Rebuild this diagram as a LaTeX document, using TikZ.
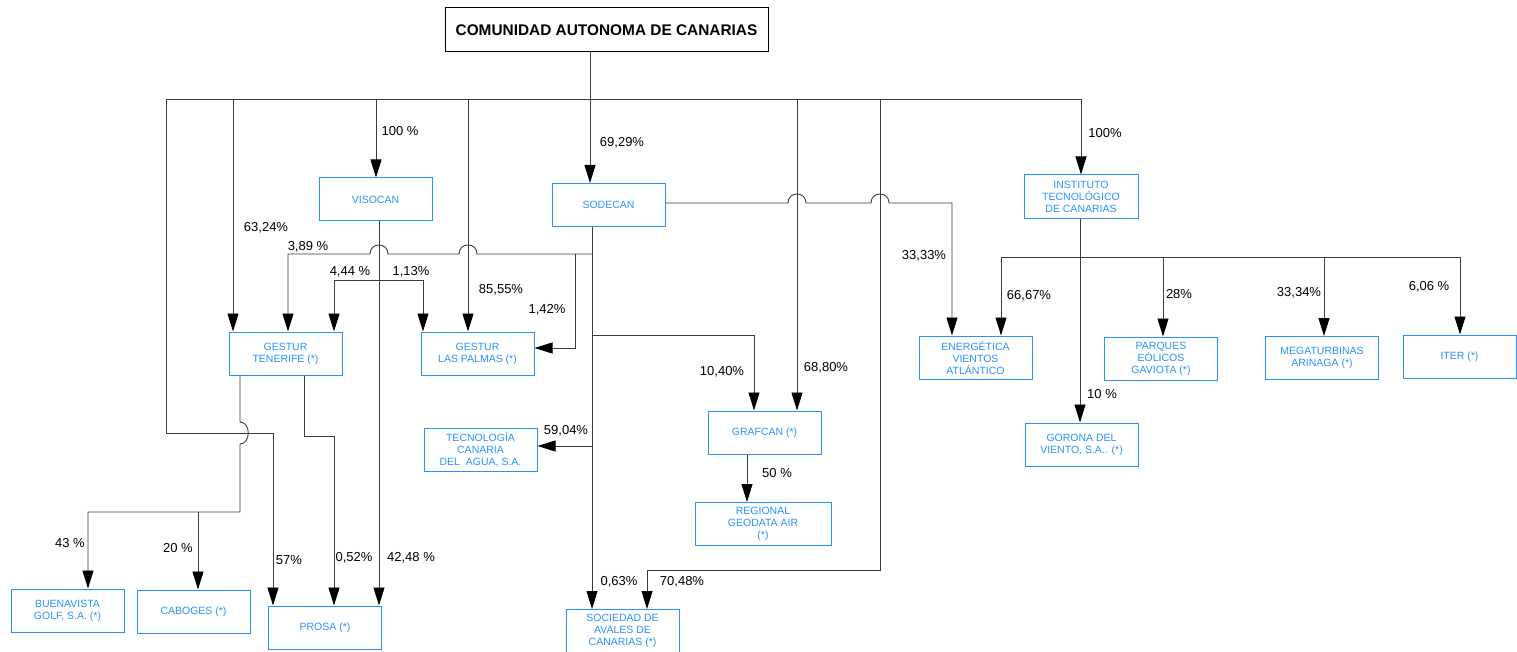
\documentclass[tikz,border=0pt]{standalone}
\usepackage{fontspec}
\setmainfont{Liberation Sans}
\usetikzlibrary{arrows.meta,positioning}
\definecolor{entblue}{RGB}{40,145,255}
\definecolor{linegray}{RGB}{60,60,60}

\begin{document}
\begin{tikzpicture}[x=1pt, y=-1pt,
ent/.style={draw=entblue, text=entblue, line width=1pt, minimum width=113pt, minimum height=43pt, inner sep=1pt, align=center, font=\fontsize{10.5}{12}\selectfont},
pct/.style={font=\fontsize{13}{15}\selectfont, inner sep=0pt},
link/.style={draw=linegray, line width=0.9pt},
arr/.style={link, -{Triangle[length=18pt, width=11pt, color=black]}}]
\useasboundingbox (0,0) rectangle (1517,652);

% entities
\node[draw, line width=1pt, minimum width=323pt, minimum height=44pt, font=\bfseries\fontsize{15.4}{18}\selectfont] (cac) at (606.5,30) {COMUNIDAD AUTONOMA DE CANARIAS};
\node[ent] (visocan) at (375.5,199.5) {VISOCAN};
\node[ent] (sodecan) at (608.5,205) {SODECAN};
\node[ent, minimum width=114pt, minimum height=44pt] (itc) at (1081,197) {INSTITUTO\\TECNOLÓGICO\\DE CANARIAS};
\node[ent] (gtf) at (285.5,353.5) {GESTUR\\TENERIFE (*)};
\node[ent] (glp) at (477.5,353.5) {GESTUR\\LAS PALMAS (*)};
\node[ent] (eva) at (975.5,357.5) {ENERGÉTICA\\VIENTOS\\ATLÁNTICO};
\node[ent] (peg) at (1161,358.5) {PARQUES\\EÓLICOS\\GAVIOTA (*)};
\node[ent] (mta) at (1322,358) {MEGATURBINAS\\ARINAGA (*)};
\node[ent] (iter) at (1459.5,356.5) {ITER (*)};
\node[ent] (tca) at (480.5,450) {TECNOLOGÍA\\CANARIA\\DEL\ \ AGUA, S.A.};
\node[ent] (grafcan) at (764.5,432.5) {GRAFCAN (*)};
\node[ent, minimum width=136pt] (rga) at (763,524) {REGIONAL\\GEODATA AIR\\(*)};
\node[ent] (gorona) at (1081.5,444.5) {GORONA DEL\\VIENTO, S.A.. (*)};
\node[ent] (bgolf) at (67.5,610.5) {BUENAVISTA\\GOLF, S.A. (*)};
\node[ent] (caboges) at (193.5,611.5) {CABOGES (*)};
\node[ent] (prosa) at (325,627.5) {PROSA (*)};
\node[ent] (saca) at (622.5,631) {SOCIEDAD DE\\AVALES DE\\CANARIAS (*)};

% bus points
\coordinate (top) at (590,99);
\coordinate (busL) at (166,99);
\coordinate (busR) at (1081,99);
\coordinate (dTF) at (233,99);
\coordinate (dVI) at (376,99);
\coordinate (dLP) at (468,99);
\coordinate (dGR) at (797,99);
\coordinate (dSA) at (880,99);
\coordinate (pr1) at (273,433);
\coordinate (sa1) at (647,570);
\coordinate (tfL) at (240,512);
\coordinate (vi1) at (379,280);
\coordinate (so1) at (592,254);
\coordinate (itb) at (1001,257);

% comunidad
\draw[link] (cac.south -| top) -- (top);
\draw[arr] (busR) -- (busL) |- (pr1) -- (pr1 |- prosa.north);
\draw[arr] (top) -- (top |- sodecan.north);
\draw[arr] (dTF) -- (dTF |- gtf.north);
\draw[arr] (dVI) -- (dVI |- visocan.north);
\draw[arr] (dLP) -- (dLP |- glp.north);
\draw[arr] (dGR) -- (dGR |- grafcan.north);
\draw[arr] (busR) -- (itc.north);
\draw[arr] (dSA) |- (sa1) -- (sa1 |- saca.north);

% gestur tenerife
\draw[arr] (240,0 |- gtf.south) -- (240,422) .. controls (251,422) and (251,444) .. (240,444) |- (88,512) -- (88,0 |- bgolf.north);
\draw[arr] (198,512) -- (198,0 |- caboges.north);
\draw[arr] (304,0 |- gtf.south) |- (334,436) -- (334,0 |- prosa.north);

% visocan
\draw[arr] (379,0 |- visocan.south) -- (379,0 |- prosa.north);
\draw[arr] (vi1) -| (334,0 |- gtf.north);
\draw[arr] (vi1) -| (423,0 |- glp.north);

% sodecan
\draw[arr] (592,0 |- sodecan.south) -- (592,0 |- saca.north);
\draw[arr] (so1) -- (477,254) .. controls (477,242) and (459,242) .. (459,254) -- (388,254) .. controls (388,242) and (370,242) .. (370,254) -| (288,0 |- gtf.north);
\draw[arr] (575,254) |- (glp.east |- 0,348);
\draw[arr] (592,335) -| (754,0 |- grafcan.north);
\draw[arr] (592,446) -- (tca.east |- 0,446);
\draw[arr] (sodecan.east |- 0,203) -- (788,203) .. controls (788,191) and (806,191) .. (806,203) -- (871,203) .. controls (871,191) and (889,191) .. (889,203) -| (952,0 |- eva.north);
\draw[arr] (747,0 |- grafcan.south) -- (747,0 |- rga.north);

% instituto
\draw[arr] (1080,0 |- itc.south) -- (1080,0 |- gorona.north);
\draw[arr] (1460,257) -- (itb) -- (itb |- eva.north);
\draw[arr] (1163,257) -- (1163,0 |- peg.north);
\draw[arr] (1324,257) -- (1324,0 |- mta.north);
\draw[arr] (1460,257) -- (1460,0 |- iter.north);

% percentages
\node[pct] (p100v) at (400,131) {100 \%};
\node[pct] (p6929) at (622,143) {69,29\%};
\node[pct] (p100i) at (1105,133) {100\%};
\node[pct] (p6324) at (266,228) {63,24\%};
\node[pct] (p389) at (308,247) {3,89 \%};
\node[pct] (p444) at (350,272) {4,44 \%};
\node[pct] (p113) at (411,272) {1,13\%};
\node[pct] (p8555) at (501,290) {85,55\%};
\node[pct] (p142) at (547,310) {1,42\%};
\node[pct] (p3333) at (924,256) {33,33\%};
\node[pct] (p6667) at (1029,296) {66,67\%};
\node[pct] (p28) at (1179,294) {28\%};
\node[pct] (p3334) at (1299,293) {33,34\%};
\node[pct] (p606) at (1429,287) {6,06 \%};
\node[pct] (p1040) at (722,372) {10,40\%};
\node[pct] (p6880) at (826,368) {68,80\%};
\node[pct] (p5904) at (566,431) {59,04\%};
\node[pct] (p50) at (777,473) {50 \%};
\node[pct] (p10) at (1102,394) {10 \%};
\node[pct] (p43) at (70,543) {43 \%};
\node[pct] (p20) at (178,548) {20 \%};
\node[pct] (p57) at (289,560) {57\%};
\node[pct] (p052) at (354,558) {0,52\%};
\node[pct] (p4248) at (411,558) {42,48 \%};
\node[pct] (p063) at (619,582) {0,63\%};
\node[pct] (p7048) at (682,582) {70,48\%};
\end{tikzpicture}
\end{document}
